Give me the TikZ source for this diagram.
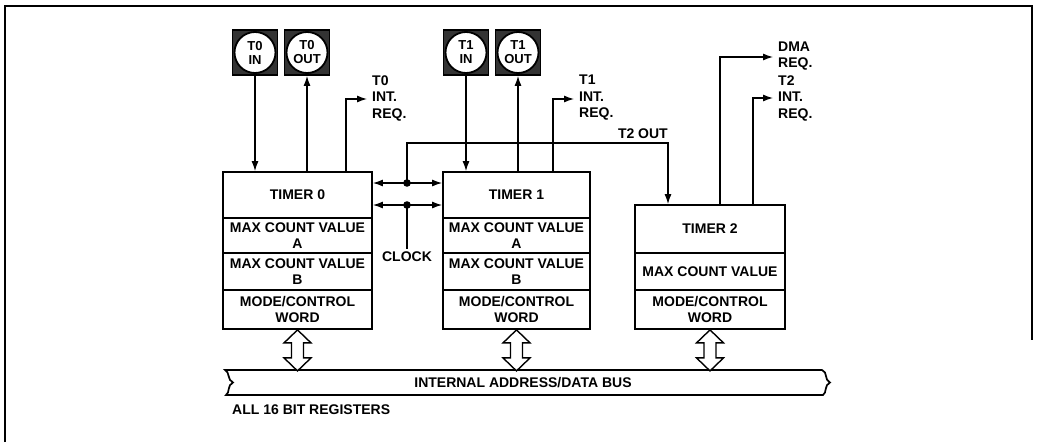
\documentclass[tikz,border=0pt]{standalone}
\usepackage{fontspec}
\setmainfont{Liberation Sans}
\usetikzlibrary{arrows.meta,calc}
\begin{document}
\begin{tikzpicture}[x=1pt,y=-1pt,
  every node/.style={font=\fontsize{14}{16.5}\selectfont\bfseries},
  sec/.style={draw,line width=1.8pt,inner sep=0pt,align=center},
  sec0/.style={sec,minimum width=149pt},
  sec1/.style={sec,minimum width=147pt},
  sec2/.style={sec,minimum width=150pt},
  pin/.style={draw,line width=1.8pt,minimum size=45pt,inner sep=0pt,align=center,
    font=\fontsize{13}{14}\selectfont\bfseries,
    path picture={\fill[black!80,even odd rule]
      (path picture bounding box.south west) rectangle (path picture bounding box.north east)
      (path picture bounding box.center) circle (20.5pt);}},
  ring/.style={line width=1.8pt},
  arr/.style={line width=1.2pt,-{Latex[length=10pt,width=7pt]}},
  darr/.style={line width=1.2pt,{Latex[length=10pt,width=7pt]}-{Latex[length=10pt,width=7pt]}},
  lab/.style={anchor=west,align=left,inner xsep=5pt,inner ysep=0pt},
  hollow/.style={draw,fill=white,line width=1.4pt,line join=miter},
  busline/.style={line width=1.7pt},
  frame/.style={line width=1.5pt}
]
\useasboundingbox (0,0) rectangle (1039,442);
% frame
\draw[frame] (5,442) -- (5,6) -- (1032,6) -- (1032,340);

% timer 0
\node[sec0,minimum height=46pt] (t0t) at (297.5,195) {TIMER 0};
\node[sec0,minimum height=35pt] (t0a) at (297.5,235.5) {MAX COUNT VALUE\\A};
\node[sec0,minimum height=37pt] (t0b) at (297.5,271.5) {MAX COUNT VALUE\\B};
\node[sec0,minimum height=39pt] (t0m) at (297.5,309.5) {MODE/CONTROL\\WORD};
% timer 1
\node[sec1,minimum height=46pt] (t1t) at (516.5,195) {TIMER 1};
\node[sec1,minimum height=35pt] (t1a) at (516.5,235.5) {MAX COUNT VALUE\\A};
\node[sec1,minimum height=37pt] (t1b) at (516.5,271.5) {MAX COUNT VALUE\\B};
\node[sec1,minimum height=39pt] (t1m) at (516.5,309.5) {MODE/CONTROL\\WORD};
% timer 2
\node[sec2,minimum height=48pt] (t2t) at (710,229) {TIMER 2};
\node[sec2,minimum height=37pt] (t2a) at (710,271.5) {MAX COUNT VALUE};
\node[sec2,minimum height=39pt] (t2m) at (710,309.5) {MODE/CONTROL\\WORD};

% pins
\node[pin] (t0in) at (255,52.5) {T0\\IN};
\node[pin] (t0out) at (307,52.5) {T0\\OUT};
\node[pin] (t1in) at (466,52.5) {T1\\IN};
\node[pin] (t1out) at (518,52.5) {T1\\OUT};
\foreach \p in {t0in,t0out,t1in,t1out} \draw[ring] (\p.center) circle (20.5pt);

% pin connectors
\draw[arr] (t0in.south) -- (t0in.south |- t0t.north);
\draw[arr] (t0out.south |- t0t.north) -- (t0out.south);
\draw[arr] (t1in.south) -- (t1in.south |- t1t.north);
\draw[arr] (t1out.south |- t1t.north) -- (t1out.south);

% interrupt requests
\node[lab] (t0lab) at (367,98) {T0\\INT.\\REQ.};
\node[lab] (t1lab) at (574,98) {T1\\INT.\\REQ.};
\node[lab] (t2lab) at (773,98) {T2\\INT.\\REQ.};
\node[lab] (dmalab) at (773,56) {DMA\\REQ.};
\coordinate (t0i) at (346,99);
\coordinate (t1i) at (553,99);
\coordinate (t2i) at (753,98);
\coordinate (dmai) at (720,57);
\draw[arr] (t0i |- t0t.north) -- (t0i) -- (t0i -| t0lab.west);
\draw[arr] (t1i |- t1t.north) -- (t1i) -- (t1i -| t1lab.west);
\draw[arr] (t2i |- t2t.north) -- (t2i) -- (t2i -| t2lab.west);
\draw[arr] (dmai |- t2t.north) -- (dmai) -- (dmai -| dmalab.west);

% clock / T2 out
\coordinate (j1) at (407,183);
\coordinate (j2) at (407,205);
\coordinate (t2o) at (668,143);
\draw[darr] (j1 -| t0t.east) -- (j1 -| t1t.west);
\draw[darr] (j2 -| t0t.east) -- (j2 -| t1t.west);
\fill (j1) circle (3.8pt);
\fill (j2) circle (3.8pt);
\draw[arr] (j1) |- (t2o) -- (t2o |- t2t.north);
\node[anchor=base east,inner sep=0pt] (t2olab) at (668,138) {T2 OUT};
\node (clk) at (407,257) {CLOCK};
\draw[line width=1.2pt] (j2) -- (clk.north);

% bus
\draw[busline] (225,370) -- (822,370)
  .. controls (828,372) and (824,380) .. (830,382.5)
  .. controls (824,385) and (827,393) .. (823,395)
  -- (226,395)
  .. controls (230,393) and (227,385) .. (233,382.5)
  .. controls (227,380) and (230,372) .. (225,370) -- cycle;
\node (bus) at (523,383) {INTERNAL ADDRESS/DATA BUS};
\node[anchor=west,inner sep=0pt] (regs) at (232,410) {ALL 16 BIT REGISTERS};

% bus arrows
\foreach \m in {t0m,t1m,t2m}
  \draw[hollow] (\m.south) -- ++(13.5,13) -- ++(-7.5,0) -- ++(0,15) -- ++(7.5,0)
    -- ++(-13.5,13) -- ++(-13.5,-13) -- ++(7.5,0) -- ++(0,-15) -- ++(-7.5,0) -- cycle;
\end{tikzpicture}
\end{document}
